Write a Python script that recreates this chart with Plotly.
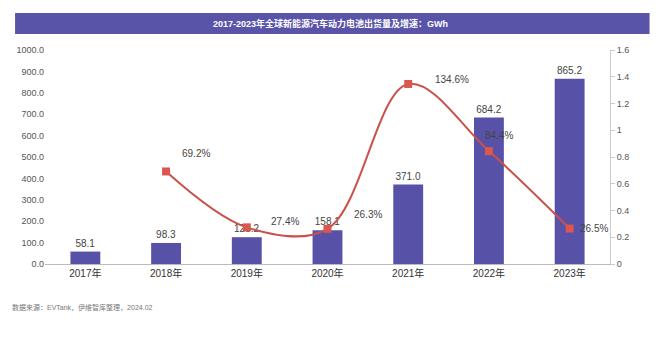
import plotly.graph_objects as go

years = ["2017年", "2018年", "2019年", "2020年", "2021年", "2022年", "2023年"]
shipments = [58.1, 98.3, 125.2, 158.1, 371.0, 684.2, 865.2]
growth = [None, 0.692, 0.274, 0.263, 1.346, 0.844, 0.265]
growth_labels = ["", "69.2%", "27.4%", "26.3%", "134.6%", "84.4%", "26.5%"]

title_text = "2017-2023年全球新能源汽车动力电池出货量及增速：GWh"
source_text = "数据来源：EVTank，伊维智库整理，2024.02"

FONT = "Liberation Sans, Noto Sans CJK SC, sans-serif"

fig = go.Figure()

fig.add_trace(go.Bar(
    x=years, y=shipments, width=0.37,
    marker=dict(color="#5752A8", line=dict(width=0)),
    text=[f"{v:.1f}" for v in shipments], textposition="outside",
    textfont=dict(size=10, color="#444444", family=FONT),
    cliponaxis=False, yaxis="y", showlegend=False,
))

fig.add_trace(go.Scatter(
    x=years, y=growth, yaxis="y2", mode="lines+markers",
    line=dict(color="#C9514B", width=2, shape="spline", smoothing=1.0),
    marker=dict(symbol="square", size=8, color="#D9574F"),
    connectgaps=False, showlegend=False,
))

# line labels (offset to the right of markers)
offsets = [(0, 0), (30, 18), (38, 6), (40, 14), (44, 4), (10, 16), (24, 0)]
for i, (yr, g, lab) in enumerate(zip(years, growth, growth_labels)):
    if g is None:
        continue
    dx, dy = offsets[i]
    fig.add_annotation(x=yr, y=g, xref="x", yref="y2", text=lab, showarrow=False,
                       xshift=dx, yshift=dy,
                       font=dict(size=10, color="#444444", family=FONT))

# title bar
fig.add_shape(type="rect", xref="paper", yref="paper", x0=-0.053, x1=1.07,
              y0=1.0 + 16 / 214.0, y1=1.0 + 37 / 214.0, layer="below",
              fillcolor="#5954A8", line=dict(width=0))
fig.add_annotation(xref="paper", yref="paper", x=0.505, y=1.0 + 26.5 / 214.0,
                   yanchor="middle",
                   text=f"<b>{title_text}</b>", showarrow=False,
                   font=dict(size=9, color="white", family=FONT))

# source note
fig.add_annotation(xref="paper", yref="paper", x=-0.062, y=-43 / 214.0,
                   xanchor="left", yanchor="middle",
                   text=source_text, showarrow=False,
                   font=dict(size=7, color="#777777", family=FONT))

fig.update_layout(
    width=661, height=343,
    margin=dict(l=45, r=51, t=50, b=79),
    paper_bgcolor="white", plot_bgcolor="rgba(0,0,0,0)",
    font=dict(family=FONT, size=10, color="#444444"),
    xaxis=dict(showgrid=False, showline=True, linecolor="#BBBBBB", linewidth=1,
               ticks="", tickfont=dict(size=10, color="#333333")),
    yaxis=dict(range=[0, 1000], dtick=100, tickformat=".1f", showgrid=False,
               showline=False, zeroline=False, ticks="",
               tickfont=dict(size=9, color="#555555")),
    yaxis2=dict(range=[0, 1.6], dtick=0.2, overlaying="y", side="right",
                showgrid=False, showline=True, linecolor="#CCCCCC", linewidth=1,
                ticks="outside", ticklen=4, tickcolor="#CCCCCC", zeroline=False,
                tickfont=dict(size=9, color="#555555")),
    bargap=0.6,
)

fig.write_html("out.html")
